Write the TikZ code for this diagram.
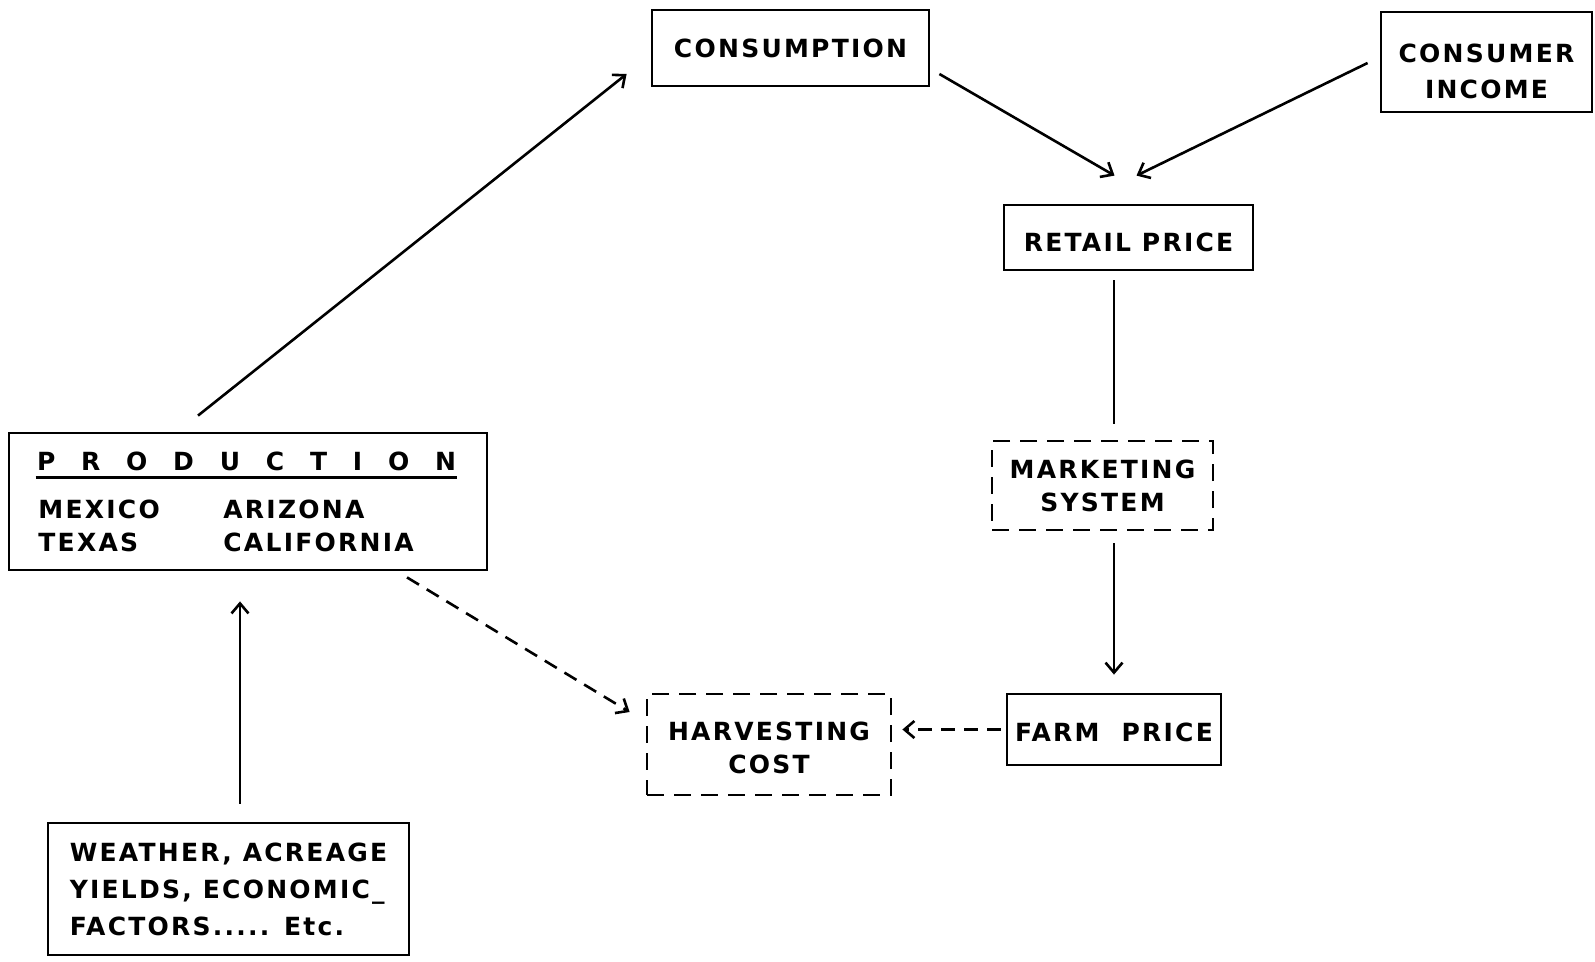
\documentclass[tikz,border=0pt]{standalone}
\usepackage{fontspec}
\setmainfont{DejaVu Sans}[LetterSpace=9]
\usetikzlibrary{arrows.meta}

\tikzset{
  box/.style={draw, line width=2.8pt, align=center, inner sep=0pt,
    font=\bfseries\fontsize{25}{33}\selectfont},
  dbox/.style={box, dash pattern=on 17pt off 10pt},
  link/.style={line width=2.6pt, -{Straight Barb[length=10pt,width=17pt,line width=2.6pt]}},
  dlink/.style={link, dash pattern=on 14pt off 9pt}
}

\begin{document}
\begin{tikzpicture}[x=1pt, y=-1pt]
  \useasboundingbox (0,0) rectangle (1595,961);

  % boxes
  \node[box, minimum width=277pt, minimum height=76pt] (cons) at (790.5,48) {CONSUMPTION};
  \node[box, minimum width=211pt, minimum height=100pt] (income) at (1486.5,62)
    {\rule{0pt}{38pt}CONSUMER\\[3pt]INCOME};
  \node[box, minimum width=249pt, minimum height=65pt, text height=27pt, text depth=0pt] (retail)
    at (1128.5,237.5) {RETAIL PRICE};
  \node[dbox, minimum width=221pt, minimum height=89pt] (market) at (1102.5,485.5) {MARKETING\\SYSTEM};
  \node[box, minimum width=214pt, minimum height=71pt, text height=24pt, text depth=0pt] (farm)
    at (1114,729.5) {FARM\hspace{22pt}PRICE};
  \node[dbox, minimum width=244pt, minimum height=101pt] (harvest) at (769,744.5)
    {\rule{0pt}{25pt}HARVESTING\\COST};
  \node[box, minimum width=361pt, minimum height=132pt, align=left,
    font=\bfseries\fontsize{25}{37}\selectfont] (weather) at (228.5,889)
    {WEATHER, ACREAGE\\YIELDS, ECONOMIC\_\\FACTORS..... Etc.};

  % production box
  \node[box, minimum width=478pt, minimum height=137pt] (prod) at (248,501.5) {};
  \node[box, draw=none] (prodhead) at (246.5,461) {\makebox[419pt][s]{P R O D U C T I O N}};
  \draw[line width=2.8pt] ([yshift=-6]prodhead.south west) -- ([yshift=-6]prodhead.south east);
  \node[box, draw=none, anchor=north west, align=left] (prodrows) at (37,494)
    {\begin{tabular}{@{}p{185pt}@{}l@{}}
      MEXICO & ARIZONA\\
      TEXAS & CALIFORNIA
    \end{tabular}};

  % connectors
  \draw[link] ([xshift=-50,yshift=16]prod.north) -- ([xshift=-24,yshift=-26]cons.west);
  \draw[link] ([xshift=9,yshift=-26]cons.east) -- ([xshift=-14,yshift=28]retail.north);
  \draw[link] ([xshift=-12,yshift=-1]income.west) -- ([xshift=8,yshift=28]retail.north);
  \draw[line width=2.6pt] ([xshift=-14.5,yshift=-9]retail.south) -- ([xshift=11.5,yshift=16]market.north);
  \draw[link] ([xshift=11.5,yshift=-12]market.south) -- ([yshift=18]farm.north);
  \draw[dlink] ([xshift=-5]farm.west) -- ([xshift=10]farm.west -| harvest.east);
  \draw[dlink] ([xshift=159,yshift=-6]prod.south) -- ([xshift=-16,yshift=32.5]harvest.west);
  \draw[link] ([xshift=11.5,yshift=18]weather.north) -- ([xshift=-8,yshift=-30]prod.south);
\end{tikzpicture}
\end{document}
